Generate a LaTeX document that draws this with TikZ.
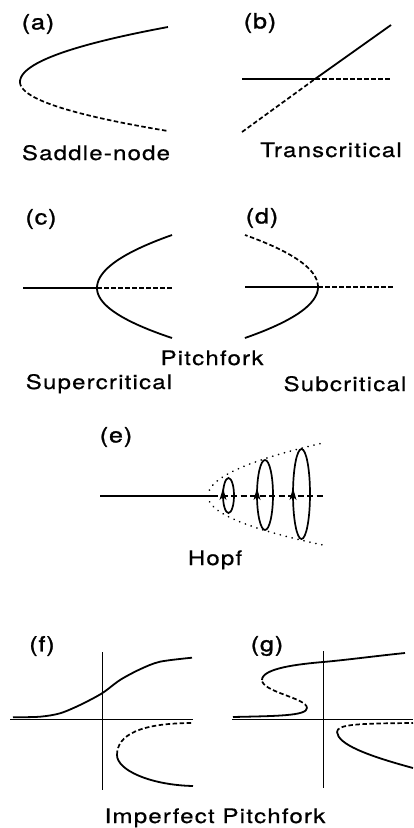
\documentclass[tikz,border=0pt]{standalone}
\usepackage{fontspec}
\setmainfont{TeX Gyre Heros}[FakeStretch=1.2,LetterSpace=6,FakeBold=0.6]
\newfontfamily\tagfont{TeX Gyre Heros}[FakeStretch=1.2,LetterSpace=4,FakeBold=1.2]
\usetikzlibrary{arrows.meta}
\begin{document}
\begin{tikzpicture}[x=1pt,y=-1pt,
  curve/.style={line width=1.8pt},
  dsh/.style={line width=1.7pt,dash pattern=on 4.5pt off 2.5pt},
  longdsh/.style={line width=1.7pt,dash pattern=on 6pt off 3.5pt},
  dotline/.style={line width=1.8pt,dash pattern=on 0.1pt off 6pt,line cap=round},
  axis/.style={line width=0.9pt},
  orbit/.style={line width=1.7pt},
  tag/.style={font=\fontsize{21}{24}\selectfont\tagfont,inner sep=0pt},
  caption/.style={font=\fontsize{20}{24}\selectfont,inner sep=0pt,anchor=base}]
\path[use as bounding box] (0,0) rectangle (413,828);

% (a) saddle-node
\node[tag] (la) at (38,24) {(a)};
\draw[curve] plot[domain=0:55,samples=40] ({20+0.0489*\x*\x},{82-\x});
\draw[dsh] plot[domain=0:49,samples=40] ({20+0.0616*\x*\x},{82+\x});
\node[caption] (ta) at (96,160) {Saddle-node};

% (b) transcritical
\node[tag] (lb) at (260,23) {(b)};
\coordinate (xb) at (315,79);
\draw[curve] (242,79) -- (xb);
\draw[dsh] (xb) -- (392,79);
\draw[curve] (xb) -- (391,25);
\draw[dsh] (242,132) -- (xb);
\node[caption] (tb) at (331,157) {Transcritical};

% (c) supercritical
\node[tag] (lc) at (41,219) {(c)};
\coordinate (xc) at (97,288);
\draw[curve] (23,288) -- (xc);
\draw[dsh] (xc) -- (172,288);
\draw[curve] plot[domain=-53:50,samples=60] ({97+(\x<0 ? 0.0267 : 0.03)*\x*\x},{288+\x});

% (d) subcritical
\node[tag] (ld) at (262,218) {(d)};
\coordinate (xd) at (318,287);
\draw[curve] (245,287) -- (xd);
\draw[dsh] (xd) -- (393,287);
\draw[dsh] plot[domain=0:52,samples=40] ({318-0.027*\x*\x},{287-\x});
\draw[curve] plot[domain=0:51,samples=40] ({318-0.0281*\x*\x},{287+\x});

\node[caption] (tp) at (212,365) {Pitchfork};
\node[caption] (tsup) at (99,389) {Supercritical};
\node[caption] (tsub) at (345,391) {Subcritical};

% (e) Hopf
\node[tag] (le) at (116,437) {(e)};
\draw[curve] (100,496) -- (212,496);
\draw[longdsh] (212,496) -- (325,496);
\draw[dotline] plot[domain=0:53,samples=40] ({208+0.0409*\x*\x},{496-\x});
\draw[dotline] plot[domain=0:49,samples=40] ({208+0.0479*\x*\x},{496+\x});
\draw[orbit] (228.5,495.5) ellipse [x radius=5.5pt, y radius=17.5pt];
\draw[orbit] (265,495) ellipse [x radius=8pt, y radius=35pt];
\draw[orbit] (301.5,494) ellipse [x radius=8.5pt, y radius=45pt];
\foreach \ax in {223,257,293}
  \fill (\ax,488) -- (\ax-3.5,500) -- (\ax,497) -- (\ax+3.5,500) -- cycle;
\node[caption] (th) at (215,565) {Hopf};

% (f) imperfect, sigmoid
\node[tag] (lf) at (42,646) {(f)};
\draw[axis] (10,719) -- (193,719);
\draw[axis] (102,652) -- (102,790);
\draw[curve] plot[smooth] coordinates {(13,717.3) (40,716.7) (60,713.3) (80,705) (102,693.3) (120,680) (140,669.3) (160,661.7) (192,657.7)};
\draw[dsh] (117,755) .. controls (117,735) and (140,723) .. (193,723);
\draw[curve] (117,755) .. controls (117,770) and (150,785) .. (193,786);

% (g) imperfect, S-curve
\node[tag] (lg) at (267,646) {(g)};
\draw[axis] (232,719) -- (413,719);
\draw[axis] (323,651) -- (323,788);
\draw[curve] (233,717) .. controls (275,716) and (307,716) .. (307,708);
\draw[dsh] (307,708) .. controls (307,698) and (262,692) .. (262,680);
\draw[curve] (262,680) .. controls (262,668) and (300,664) .. (323,662) .. controls (346,660) and (380,655.5) .. (405,653);
\draw[dsh] (337,732) .. controls (337,724) and (360,723.5) .. (413,723);
\draw[curve] (337,732) .. controls (338,744) and (365,755) .. (413,768);

\node[caption] (ti) at (215,823) {Imperfect Pitchfork};
\end{tikzpicture}
\end{document}
